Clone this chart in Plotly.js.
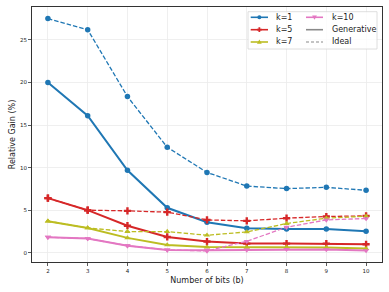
<!DOCTYPE html>
<html><head><meta charset="utf-8">
<script src="https://cdn.plot.ly/plotly-3.0.1.min.js"></script>
<style>html,body{margin:0;padding:0;background:#fff}#chart{width:389px;height:292px}</style>
</head><body><div id="chart"></div>
<script>
const bits = [2,3,4,5,6,7,8,9,10];
const k1Gen = [20.0,16.1,9.7,5.3,3.6,2.9,2.8,2.8,2.55];
const k1Ideal = [27.5,26.2,18.35,12.4,9.45,7.85,7.55,7.7,7.35];
const k5Gen = [6.43,5.02,3.2,1.88,1.34,1.1,1.1,1.1,1.02];
const k5Ideal = [6.43,5.02,4.94,4.79,3.88,3.77,4.08,4.28,4.35];
const k7Gen = [3.73,2.94,1.77,0.94,0.7,0.67,0.7,0.63,0.51];
const k7Ideal = [3.73,2.94,2.51,2.51,2.08,2.47,3.45,4.08,4.31];
const k10Gen = [1.85,1.69,0.86,0.36,0.32,0.36,0.43,0.4,0.28];
const k10Ideal = [1.85,1.69,0.86,0.36,0.24,1.37,3.02,3.88,4.04];
const seriesLabels = ['k=1','k=5','k=7','k=10'];
const styleLabels = ['Generative','Ideal'];
const yTicks = [0,5,10,15,20,25];
const xTitle = 'Number of bits (b)';
const yTitle = 'Relative Gain (%)';

const colors = ['#1f77b4','#d62728','#bcbd22','#e377c2'];
const symbols = ['circle','cross','triangle-up','triangle-down'];
const genData = [k1Gen,k5Gen,k7Gen,k10Gen];
const idealData = [k1Ideal,k5Ideal,k7Ideal,k10Ideal];

const traces = [];
for (let i=0;i<4;i++){
  traces.push({x:bits,y:idealData[i],type:'scatter',mode:'lines+markers',showlegend:false,
    line:{color:colors[i],width:1.3,dash:'4.5px,2px'},
    marker:{color:colors[i],symbol:symbols[i],size:i===1?6:5.5,line:{width:0}}});
  traces.push({x:bits,y:genData[i],type:'scatter',mode:'lines+markers',showlegend:false,
    line:{color:colors[i],width:2},
    marker:{color:colors[i],symbol:symbols[i],size:i===1?6:5.5,line:{width:0}}});
}

// plot area in pixels
const L=32,R=382,T=7,B=262,W=389,H=292;
const px=x=>(x-L)/(R-L), py=y=>(B-y)/(B-T);
const shapes=[], annotations=[];
shapes.push({type:'rect',xref:'paper',yref:'paper',x0:px(248),x1:px(377),y0:py(49),y1:py(11.7),
  fillcolor:'rgba(255,255,255,0.8)',line:{color:'#d6d6d6',width:0.8},layer:'above'});
const rowsY=[17.3,29.7,42];
function markerShape(sym,cx,cy,color){
  const r=2;
  if(sym==='circle'){
    shapes.push({type:'circle',xref:'paper',yref:'paper',x0:px(cx-r),x1:px(cx+r),y0:py(cy+r),y1:py(cy-r),
      fillcolor:color,line:{width:0},layer:'above'});
    return;
  }
  let pts;
  if(sym==='cross'){const a=2.4,b=0.9;pts=[[-b,-a],[b,-a],[b,-b],[a,-b],[a,b],[b,b],[b,a],[-b,a],[-b,b],[-a,b],[-a,-b],[-b,-b]];}
  else if(sym==='triangle-up'){pts=[[0,-2.4],[2.4,1.8],[-2.4,1.8]];}
  else {pts=[[0,2.4],[2.4,-1.8],[-2.4,-1.8]];}
  const path='M'+pts.map(p=>px(cx+p[0])+','+py(cy+p[1])).join('L')+'Z';
  shapes.push({type:'path',xref:'paper',yref:'paper',path:path,fillcolor:color,line:{width:0},layer:'above'});
}
function entry(col,row,label,color,dash,sym){
  const x0=col===0?250.7:306, x1=col===0?268:323, tx=col===0?274:329.7;
  const y=rowsY[row];
  shapes.push({type:'line',xref:'paper',yref:'paper',x0:px(x0),x1:px(x1),y0:py(y),y1:py(y),
    line:{color:color,width:dash?1.1:1.6,dash:dash?'3px,2px':'solid'},layer:'above'});
  if(sym) markerShape(sym,(x0+x1)/2,y,color);
  annotations.push({xref:'paper',yref:'paper',x:px(tx),y:py(y),text:label,showarrow:false,
    xanchor:'left',yanchor:'middle',font:{family:'DejaVu Sans',size:8,color:'#222'}});
}
entry(0,0,seriesLabels[0],colors[0],false,symbols[0]);
entry(0,1,seriesLabels[1],colors[1],false,symbols[1]);
entry(0,2,seriesLabels[2],colors[2],false,symbols[2]);
entry(1,0,seriesLabels[3],colors[3],false,symbols[3]);
entry(1,1,styleLabels[0],'#8a8a8a',false,null);
entry(1,2,styleLabels[1],'#8a8a8a',true,null);

const axisCommon={showline:true,linecolor:'#333',linewidth:1,mirror:true,ticks:'outside',ticklen:3,tickwidth:0.8,
  tickcolor:'#333',showgrid:true,gridcolor:'#ebebeb',gridwidth:0.8,zeroline:false,
  tickfont:{family:'DejaVu Sans',size:5.5,color:'#222'}};
const layout={
  width:W,height:H,margin:{l:L,r:W-R,t:T,b:H-B},
  paper_bgcolor:'#fff',plot_bgcolor:'#fff',showlegend:false,
  font:{family:'DejaVu Sans'},
  xaxis:Object.assign({},axisCommon,{range:[1.6,10.4],tickvals:bits,automargin:false,
    title:{text:xTitle,font:{family:'DejaVu Sans',size:8,color:'#222'},standoff:4}}),
  yaxis:Object.assign({},axisCommon,{range:[-1.06,28.86],tickvals:yTicks,automargin:false,
    title:{text:yTitle,font:{family:'DejaVu Sans',size:8,color:'#222'},standoff:3}}),
  shapes:shapes,annotations:annotations
};
Plotly.newPlot('chart',traces,layout,{staticPlot:true,displayModeBar:false});
</script></body></html>
